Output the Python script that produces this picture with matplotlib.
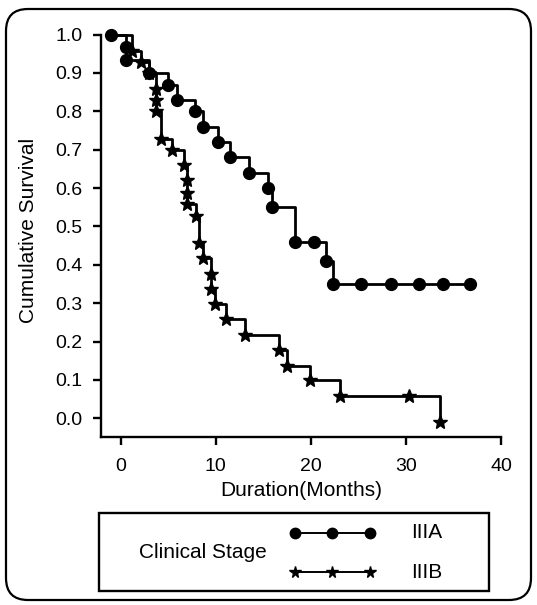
import matplotlib
matplotlib.use("Agg")
import matplotlib.pyplot as plt
from matplotlib.patches import FancyBboxPatch, Rectangle
from matplotlib.lines import Line2D
import matplotlib.transforms as mtransforms

plt.rcParams['font.family'] = ['Liberation Sans', 'DejaVu Sans']

# Data
iiia_months = [-1.0, 0.6, 0.6, 3.0, 5.0, 5.9, 7.8, 8.7, 10.2, 11.5, 13.5, 15.5, 15.9,
               18.3, 20.3, 21.6, 22.3, 25.3, 28.4, 31.4, 33.9, 36.7]
iiia_surv = [1.0, 0.967, 0.933, 0.90, 0.868, 0.830, 0.80, 0.76, 0.72, 0.68, 0.64, 0.60, 0.55,
             0.46, 0.46, 0.41, 0.35, 0.35, 0.35, 0.35, 0.35, 0.35]

iiib_months = [-1.0, 1.2, 2.1, 3.0, 3.7, 3.7, 3.7, 4.2, 5.4, 6.7, 7.0, 7.0, 7.0, 7.9, 8.25,
               8.7, 9.55, 9.55, 9.9, 11.05, 13.05, 16.7, 17.45, 19.9, 23.05, 30.3, 33.6]
iiib_surv = [1.0, 0.958, 0.929, 0.90, 0.858, 0.829, 0.80, 0.728, 0.698, 0.659, 0.621, 0.588,
             0.559, 0.527, 0.456, 0.417, 0.376, 0.336, 0.298, 0.258, 0.217, 0.178, 0.137,
             0.099, 0.058, 0.058, -0.01]

x_ticks = [0, 10, 20, 30, 40]
y_ticks = [0.0, 0.1, 0.2, 0.3, 0.4, 0.5, 0.6, 0.7, 0.8, 0.9, 1.0]
group_labels = ['IIIA', 'IIIB']
legend_title = 'Clinical Stage'

W, H = 537, 605
fig = plt.figure(figsize=(W / 100, H / 100), dpi=100)

# rounded outer frame
frame = FancyBboxPatch((6, 5), 525, 591, boxstyle="round,pad=0,rounding_size=22",
                       transform=mtransforms.IdentityTransform(), fill=False,
                       edgecolor='black', linewidth=1.6)
fig.patches.append(frame)

ax = fig.add_axes([101 / W, 1 - 436.7 / H, 400 / W, (436.7 - 34.5) / H])
ax.plot(iiib_months, iiib_surv, drawstyle='steps-post', color='black', linewidth=2.0,
        marker='*', markersize=10.5, markevery=list(range(1, len(iiib_months))),
        clip_on=False, zorder=3)
ax.plot(iiia_months, iiia_surv, drawstyle='steps-post', color='black', linewidth=2.0,
        marker='o', markersize=8.5, clip_on=False, zorder=4)

ax.set_xlim(-2.07, 40)
ax.set_ylim(-0.048, 1.0)
ax.set_xticks(x_ticks)
ax.set_yticks(y_ticks)
ax.set_yticklabels([f"{v:.1f}" for v in y_ticks])
for s in ['top', 'right']:
    ax.spines[s].set_visible(False)
for s in ['left', 'bottom']:
    ax.spines[s].set_linewidth(1.7)
ax.tick_params(axis='both', direction='out', length=5.5, width=1.7, labelsize=14)
ax.tick_params(axis='x', pad=10)
ax.tick_params(axis='y', pad=8)
ax.set_xlabel('Duration(Months)', fontsize=15, labelpad=4)
fig.text(29 / W, 1 - 230 / H, 'Cumulative Survival', rotation=90, fontsize=15,
         ha='center', va='center')

# custom legend box
rect = Rectangle((99 / W, 1 - 591 / H), 390 / W, 78 / H, transform=fig.transFigure,
                 fill=False, edgecolor='black', linewidth=1.7)
fig.patches.append(rect)
fig.text(203 / W, 1 - 552 / H, legend_title, fontsize=15, ha='center', va='center')
lx = [295 / W, 332 / W, 370 / W]
fig.add_artist(Line2D(lx, [1 - 533 / H] * 3, transform=fig.transFigure, color='black',
                      linewidth=1.4, marker='o', markersize=7.5))
fig.add_artist(Line2D(lx, [1 - 572 / H] * 3, transform=fig.transFigure, color='black',
                      linewidth=1.4, marker='*', markersize=8.5))
fig.text(411 / W, 1 - 533 / H, group_labels[0], fontsize=15, ha='left', va='center')
fig.text(411 / W, 1 - 572 / H, group_labels[1], fontsize=15, ha='left', va='center')

fig.savefig('out.png', dpi=100)
